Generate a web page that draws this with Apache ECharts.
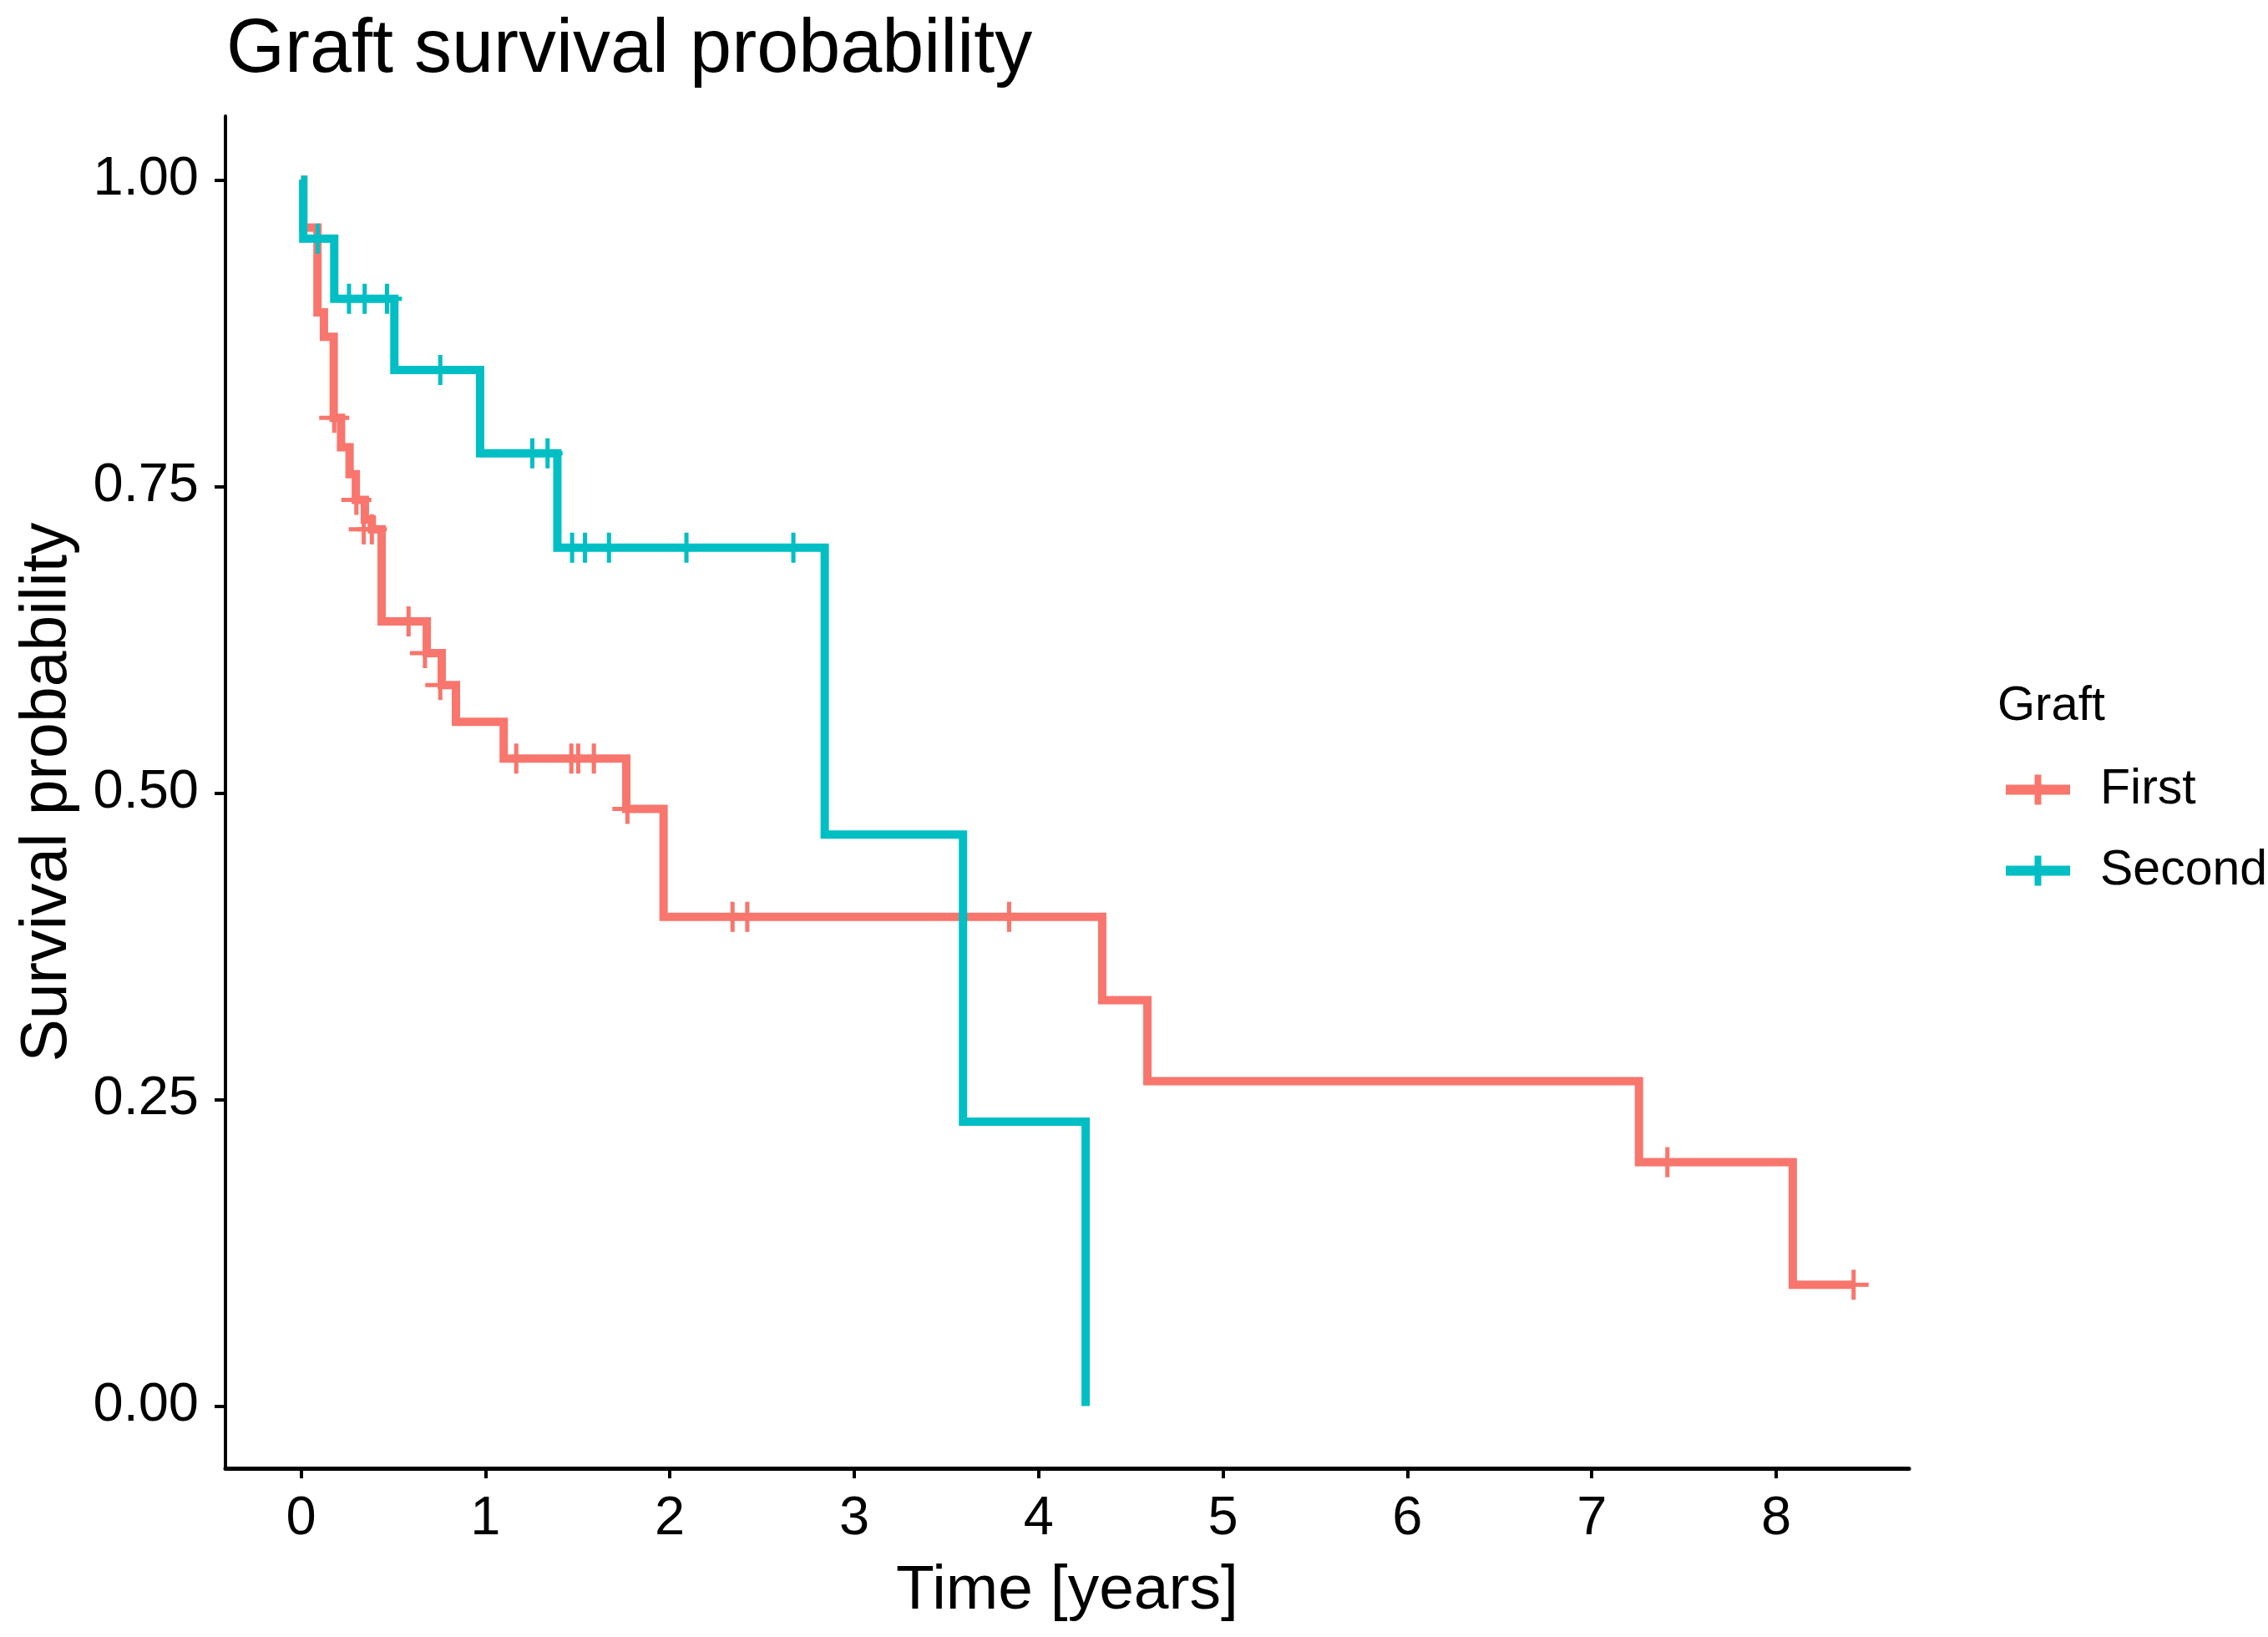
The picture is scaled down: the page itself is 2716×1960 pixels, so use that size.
<!DOCTYPE html>
<html>
<head>
<meta charset="utf-8">
<script src="https://cdn.jsdelivr.net/npm/echarts@6/dist/echarts.min.js"></script>
<style>
  html, body { margin: 0; padding: 0; background: #ffffff; }
  #chart { width: 2716px; height: 1960px; }
</style>
</head>
<body>
<div id="chart"></div>
<script>
// ---- Data ----
const groupNames = ['First', 'Second'];
const xTicks = [0, 1, 2, 3, 4, 5, 6, 7, 8];
const yTicks = [0, 0.25, 0.5, 0.75, 1];

// Kaplan-Meier steps: [time in years, survival after the step]
const firstSteps = [
  [0, 1], [0.012, 0.961], [0.089, 0.892], [0.124, 0.872], [0.177, 0.806],
  [0.217, 0.782], [0.263, 0.760], [0.297, 0.739], [0.346, 0.723], [0.384, 0.715],
  [0.437, 0.640], [0.682, 0.614], [0.763, 0.588], [0.84, 0.558], [1.099, 0.528],
  [1.764, 0.487], [1.966, 0.399], [4.345, 0.331], [4.59, 0.265], [7.256, 0.199],
  [8.09, 0.099], [8.42, 0.099]
];
const secondSteps = [
  [0, 1], [0.012, 0.952], [0.18, 0.903], [0.506, 0.845], [0.971, 0.777],
  [1.39, 0.700], [2.84, 0.466], [3.59, 0.232], [4.255, 0]
];
// Censoring marks: [time, survival]
const firstCensor = [
  [0.18, 0.806], [0.30, 0.739], [0.34, 0.715], [0.384, 0.715], [0.583, 0.640],
  [0.672, 0.614], [0.755, 0.588], [1.167, 0.528], [1.466, 0.528], [1.503, 0.528],
  [1.588, 0.528], [1.77, 0.487], [2.34, 0.399], [2.42, 0.399], [3.84, 0.399],
  [7.41, 0.199], [8.42, 0.099]
];
const secondCensor = [
  [0.09, 0.952], [0.26, 0.903], [0.345, 0.903], [0.466, 0.903], [0.755, 0.845],
  [1.254, 0.777], [1.337, 0.777], [1.47, 0.700], [1.54, 0.700], [1.67, 0.700],
  [2.09, 0.700], [2.67, 0.700]
];

const colors = ['#F8766D', '#00BFC4'];
const FONT = 'Arial, "Liberation Sans", Helvetica, sans-serif';
const plusSymbol = 'path://M-0.07,-0.5L0.07,-0.5L0.07,-0.07L0.5,-0.07L0.5,0.07L0.07,0.07L0.07,0.5L-0.07,0.5L-0.07,0.07L-0.5,0.07L-0.5,-0.07L-0.07,-0.07Z';
const legendIcon = 'path://M0,12H34.5V0H42.5V12H77V24H42.5V36H34.5V24H0Z';

const chart = echarts.init(document.getElementById('chart'), null, { renderer: 'canvas' });

function lineSeries(name, data, color) {
  return {
    name: name, type: 'line', step: 'end', data: data,
    showSymbol: false, symbol: 'none', animation: false,
    lineStyle: { color: color, width: 10, cap: 'butt', join: 'miter' },
    itemStyle: { color: color }, z: 2
  };
}
function censorSeries(name, data, color) {
  return {
    name: name, type: 'scatter', data: data, symbol: plusSymbol,
    symbolSize: 36, animation: false, silent: true,
    itemStyle: { color: color, opacity: 1 }, z: 3
  };
}

chart.setOption({
  backgroundColor: '#ffffff',
  animation: false,
  textStyle: { fontFamily: FONT },
  title: [
    { text: 'Graft survival probability', left: 271, top: 16, padding: 0,
      textStyle: { fontFamily: FONT, fontSize: 90, fontWeight: 'normal', color: '#000' } },
    { text: 'Graft', left: 2392, top: 817, padding: 0,
      textStyle: { fontFamily: FONT, fontSize: 58, fontWeight: 'normal', color: '#000' } }
  ],
  legend: {
    data: groupNames.map(n => ({ name: n, icon: legendIcon })),
    orient: 'vertical', left: 2402, top: 916, padding: 0,
    itemWidth: 77, itemHeight: 36, itemGap: 38,
    selectedMode: false,
    textStyle: { fontFamily: FONT, fontSize: 59, color: '#000', padding: [0, 0, 0, 31] }
  },
  grid: { left: 270, right: 430, top: 139, bottom: 202, containLabel: false },
  xAxis: {
    type: 'value', min: -0.41, max: 8.72,
    name: 'Time [years]', nameLocation: 'middle', nameGap: 110,
    nameTextStyle: { fontFamily: FONT, fontSize: 75, color: '#000' },
    axisLine: { show: true, onZero: false, lineStyle: { color: '#000', width: 5 } },
    axisTick: { show: true, length: 12, customValues: xTicks, lineStyle: { color: '#000', width: 4 } },
    axisLabel: { customValues: xTicks, margin: 29, fontFamily: FONT, fontSize: 65, color: '#000',
      formatter: v => String(v) },
    splitLine: { show: false }
  },
  yAxis: {
    type: 'value', min: -0.0507, max: 1.052,
    name: 'Survival probability', nameLocation: 'middle', nameGap: 174, nameRotate: 90,
    nameTextStyle: { fontFamily: FONT, fontSize: 77, color: '#000' },
    axisLine: { show: true, onZero: false, lineStyle: { color: '#000', width: 4 } },
    axisTick: { show: true, length: 13, customValues: yTicks, lineStyle: { color: '#000', width: 4 } },
    axisLabel: { customValues: yTicks, margin: 32, fontFamily: FONT, fontSize: 65, color: '#000',
      formatter: v => v.toFixed(2) },
    splitLine: { show: false }
  },
  series: [
    lineSeries('First', firstSteps, colors[0]),
    lineSeries('Second', secondSteps, colors[1]),
    censorSeries('First censored', firstCensor, colors[0]),
    censorSeries('Second censored', secondCensor, colors[1])
  ]
});
</script>
</body>
</html>
